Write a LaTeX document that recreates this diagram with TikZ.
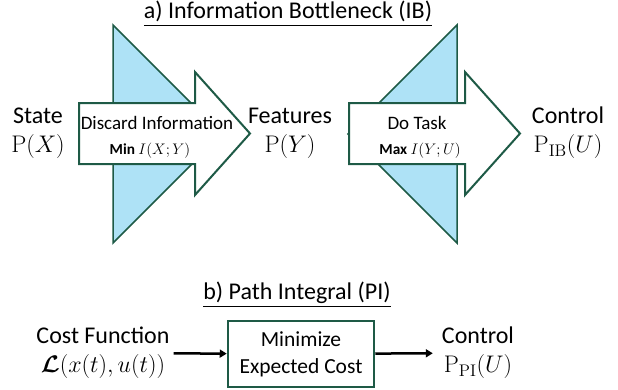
\RequirePackage{fix-cm}
\documentclass[tikz,border=0pt]{standalone}
\usepackage{amsmath,bm}
\usepackage[no-math]{fontspec}
\setmainfont{Carlito}
\usetikzlibrary{positioning,arrows.meta}

\definecolor{ibgreen}{RGB}{30,90,70}
\definecolor{ibblue}{RGB}{174,226,246}

\tikzset{
    wedge/.style={draw=ibgreen, fill=ibblue, line width=1.5pt, line join=miter},
    bigarrow/.style={draw=ibgreen, fill=white, line width=2pt, line join=miter},
    lbl/.style={align=center, inner sep=0pt, font=\fontsize{24}{29}\selectfont},
    inlbl/.style={inner sep=0pt, font=\fontsize{19}{22}\selectfont},
    sublbl/.style={inner sep=0pt, font=\fontsize{15.3}{17}\selectfont},
    stepbox/.style={draw=ibgreen, line width=2.5pt, align=center,
        minimum width=146pt, minimum height=66pt, font=\fontsize{21.5}{27}\selectfont},
    flow/.style={-{Triangle[length=7pt,width=8pt]}, line width=2.5pt}
}

\begin{document}
\begin{tikzpicture}[x=1pt, y=-1pt]
    \useasboundingbox (0,0) rectangle (618,389);

    \begin{scope}
        % Information Bottleneck
        \node[lbl] (titlea) at (288,14) {\underline{a) Information Bottleneck (IB)}};

        % Wedges behind the arrows
        \draw[wedge] (113,25) -- (113,243) -- (222,134) -- cycle;
        \draw[wedge] (457,25) -- (457,243) -- (348,134) -- cycle;

        % Big arrows
        \foreach \sx in {0,270} {
            \begin{scope}[xshift=\sx pt]
                \draw[bigarrow] (79,103) -- (195,103) -- (195,72) -- (250,133.5)
                    -- (195,195) -- (195,164) -- (79,164) -- cycle;
            \end{scope}
        }

        \node[inlbl] (discard) at (157,123) {Discard Information};
        \node[sublbl] (minlbl) at (150,151) {\textbf{Min} $I(X;Y)$};
        \node[inlbl] (dotask) at (417,123) {Do Task};
        \node[sublbl] (maxlbl) at (420,151) {\textbf{Max} $I(Y;U)$};

        \node[lbl] (state) at (38,133) {State\\$\mathrm{P}(X)$};
        \node[lbl] (feat) at (290,133) {Features\\$\mathrm{P}(Y)$};
        \node[lbl] (ctrlib) at (568,133) {Control\\$\mathrm{P}_{\mathrm{IB}}(U)$};
    \end{scope}

    \begin{scope}
        % Path Integral
        \node[lbl] (titleb) at (297,295) {\underline{b) Path Integral (PI)}};

        \node[lbl] (cost) at (103,353) {Cost Function\\$\boldsymbol{\mathcal{L}}(x(t),u(t))$};
        \node[stepbox] (minbox) at (301,354) {Minimize\\Expected Cost};
        \node[lbl] (ctrlpi) at (478,353) {Control\\$\mathrm{P}_{\mathrm{PI}}(U)$};

        \draw[flow, shorten <=4pt] (cost) -- (minbox);
        \draw[flow, shorten >=9pt] (minbox) -- (ctrlpi);
    \end{scope}
\end{tikzpicture}
\end{document}
